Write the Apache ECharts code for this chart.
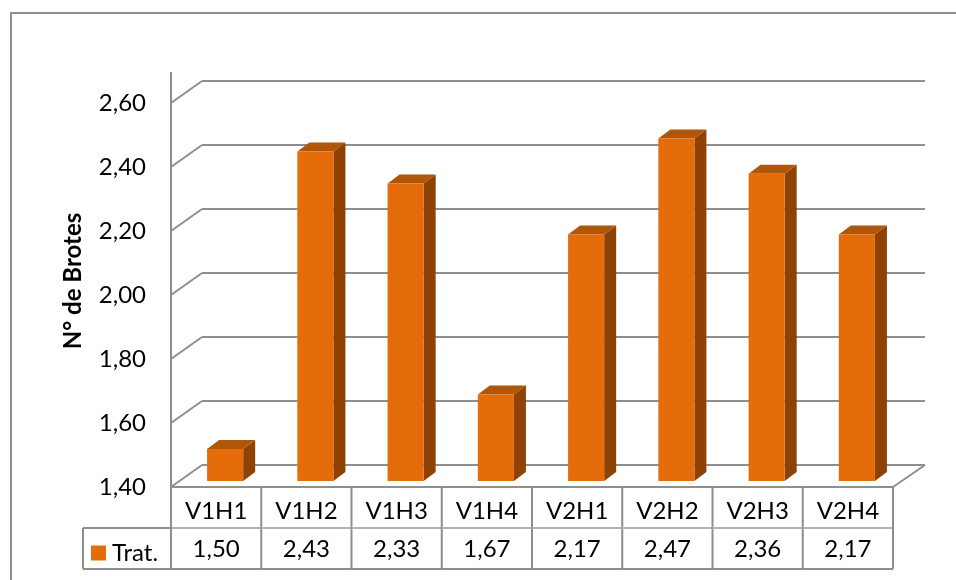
<!DOCTYPE html>
<html>
<head>
<meta charset="utf-8">
<script src="https://cdn.jsdelivr.net/npm/echarts@6/dist/echarts.min.js"></script>
<style>
  html, body { margin: 0; padding: 0; background: #fff; }
  #chart { width: 956px; height: 580px; }
</style>
</head>
<body>
<div id="chart"></div>
<script>
// Tratamientos y número medio de brotes
const categories = ['V1H1', 'V1H2', 'V1H3', 'V1H4', 'V2H1', 'V2H2', 'V2H3', 'V2H4'];
const tratValues = [1.50, 2.43, 2.33, 1.67, 2.17, 2.47, 2.36, 2.17];
const seriesName = 'Trat.';
const axisTitle = 'N° de Brotes';
const yMin = 1.4, yMax = 2.6, yStep = 0.2;

const FONT = 'Lato, Carlito, "Open Sans", sans-serif';
const FS = 24;
const FRONT = '#E46C0A', SIDE = '#8F4205', TOP = '#B05608';
const GRID = '#8e8e8e', TABLE = '#8e8e8e', TABLE_LIGHT = '#b4b4b4';

// pseudo-3D depth of the back wall and of each bar
const WALL_DX = 31, WALL_DY = -22;
const BAR_DX = 12, BAR_DY = -9;
const BAR_OFF_X = 9, BAR_OFF_Y = -6;
const ROW_H = 41;

const fmt = v => v.toFixed(2).replace('.', ',');

const chart = echarts.init(document.getElementById('chart'), null, { renderer: 'canvas' });

function line(x1, y1, x2, y2, color, w) {
  return { type: 'line', shape: { x1, y1, x2, y2 }, style: { stroke: color, lineWidth: w || 2 }, silent: true };
}

// back wall, side wall gridlines, floor and vertical axis
function renderWalls(params, api) {
  const cs = params.coordSys;
  const gx = cs.x, gy = cs.y, gw = cs.width, gh = cs.height;
  const children = [];
  const steps = Math.round((yMax - yMin) / yStep);
  for (let k = 0; k <= steps; k++) {
    const t = yMin + k * yStep;
    const y = api.coord([0, t])[1];
    children.push(line(gx, y, gx + WALL_DX, y + WALL_DY, GRID));
    children.push(line(gx + WALL_DX, y + WALL_DY, gx + gw + WALL_DX + 1, y + WALL_DY, GRID));
  }
  const yb = gy + gh;
  children.push(line(gx + gw, yb, gx + gw + WALL_DX + 1, yb + WALL_DY, GRID));
  children.push(line(gx, gy - 31, gx, yb, GRID));
  return { type: 'group', children };
}

// data table under the plot: cell borders and the value row
function renderTable(params, api) {
  const idx = api.value(0);
  const v = api.value(1);
  const base = api.coord([idx, yMin]);
  const band = api.size([1, 0])[0];
  const xl = base[0] - band / 2, xr = base[0] + band / 2;
  const y0 = base[1], y1 = y0 + ROW_H, y2 = y1 + ROW_H;
  const children = [
    line(xl, y0, xr, y0, TABLE),
    line(xl, y1, xr, y1, TABLE_LIGHT),
    line(xl, y2, xr, y2, TABLE),
    line(xr, y0, xr, y2, TABLE)
  ];
  if (idx === 0) {
    children.push(line(xl, y0, xl, y2, TABLE));
    // legend cell
    const lx = xl - 88;
    children.push(line(lx, y1, xl, y1, TABLE));
    children.push(line(lx, y2, xl, y2, TABLE));
    children.push(line(lx, y1, lx, y2, TABLE));
  }
  children.push({
    type: 'text',
    silent: true,
    style: {
      text: fmt(v), x: base[0], y: (y1 + y2) / 2 + 1,
      fill: '#000', fontSize: FS, fontFamily: FONT,
      align: 'center', verticalAlign: 'middle'
    }
  });
  return { type: 'group', children };
}

// one prism per treatment: front, side and top faces
function renderBar(params, api) {
  const idx = api.value(0);
  const v = api.value(1);
  const base = api.coord([idx, yMin]);
  const topP = api.coord([idx, v]);
  const band = api.size([1, 0])[0];
  const w = band * 0.4;
  const cx = base[0] + BAR_OFF_X;
  const x0 = cx - w / 2, x1 = cx + w / 2;
  const yb = base[1] + BAR_OFF_Y, yt = topP[1] + BAR_OFF_Y;
  return {
    type: 'group',
    children: [
      { type: 'polygon', shape: { points: [[x1, yt], [x1 + BAR_DX, yt + BAR_DY], [x1 + BAR_DX, yb + BAR_DY], [x1, yb]] }, style: { fill: SIDE } },
      { type: 'polygon', shape: { points: [[x0, yt], [x0 + BAR_DX, yt + BAR_DY], [x1 + BAR_DX, yt + BAR_DY], [x1, yt]] }, style: { fill: TOP } },
      { type: 'rect', shape: { x: x0, y: yt, width: w, height: yb - yt }, style: { fill: FRONT } }
    ]
  };
}

const barData = tratValues.map((v, i) => [i, v]);

chart.setOption({
  animation: false,
  backgroundColor: '#fff',
  grid: { left: 171, right: 63, top: 103, bottom: 93, containLabel: false },
  legend: {
    data: [seriesName],
    left: 91, top: 541,
    padding: 0,
    itemWidth: 15, itemHeight: 15, itemGap: 6,
    icon: 'rect',
    textStyle: { fontSize: FS, fontFamily: FONT, color: '#000', padding: [0, 0, 0, 1] }
  },
  xAxis: {
    type: 'category',
    data: categories,
    axisLine: { show: false },
    axisTick: { show: false },
    splitLine: { show: false },
    axisLabel: { margin: 24, verticalAlign: 'middle', fontSize: FS, fontFamily: FONT, color: '#000' }
  },
  yAxis: {
    type: 'value',
    min: yMin, max: yMax, interval: yStep,
    axisLine: { show: false },
    axisTick: { show: false },
    splitLine: { show: false },
    axisLabel: { margin: 25, fontSize: FS, fontFamily: FONT, color: '#000', formatter: v => fmt(v) }
  },
  graphic: [
    { type: 'rect', shape: { x: 11, y: 13, width: 980, height: 620 }, style: { fill: 'none', stroke: '#8e8e8e', lineWidth: 2 }, z: -1, silent: true },
    {
      type: 'text', x: 73, y: 281, rotation: Math.PI / 2, silent: true,
      style: { text: axisTitle, fontSize: 24, fontWeight: 'bold', fontFamily: FONT, fill: '#000', align: 'center', verticalAlign: 'middle' }
    }
  ],
  series: [
    { name: 'pared', type: 'custom', renderItem: renderWalls, data: [[0, yMin]], clip: false, z: 1, silent: true },
    { name: 'tabla', type: 'custom', renderItem: renderTable, data: barData, clip: false, z: 2, silent: true },
    { name: seriesName, type: 'custom', renderItem: renderBar, data: barData, clip: false, z: 3, itemStyle: { color: FRONT } }
  ]
});
</script>
</body>
</html>
